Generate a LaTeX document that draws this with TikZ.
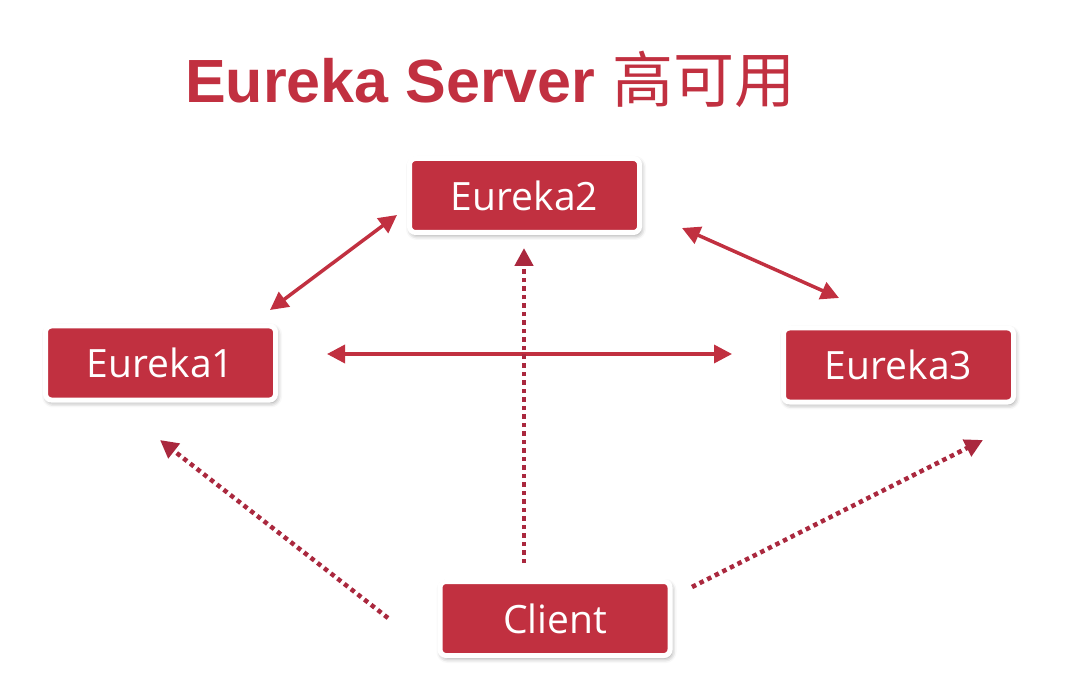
\documentclass[tikz,border=0pt]{standalone}
\usepackage{fontspec}
\setmainfont{Open Sans}
\newfontfamily\titlefont{Liberation Sans}
\newfontfamily\cjkfont{Noto Sans CJK SC}
\usetikzlibrary{arrows.meta,shadows.blur}

\definecolor{eured}{RGB}{193,48,64}
\definecolor{eudot}{RGB}{170,40,62}

\tikzset{
  srv/.style={rectangle, rounded corners=6pt, fill=eured, draw=white, line width=5pt,
    minimum width=230pt, minimum height=74pt, inner sep=0pt, text=white,
    font=\fontsize{39}{39}\selectfont,
    blur shadow={shadow xshift=1.5pt, shadow yshift=-2.5pt, shadow blur radius=5pt, shadow opacity=45}},
  sync/.style={draw=eured, line width=3.5pt, {Triangle[length=18pt,width=18pt]}-{Triangle[length=18pt,width=18pt]}},
  reg/.style={draw=eudot, line width=4.5pt, dash pattern=on 4.5pt off 4pt, -{Triangle[length=18pt,width=18pt]}}
}

\begin{document}
\begin{tikzpicture}[x=1pt, y=1pt]
\useasboundingbox (0,0) rectangle (1087,673);
\node[anchor=base west, text=eured, inner sep=0pt] (title) at (185,570)
  {\fontsize{61}{61}\selectfont\bfseries\titlefont Eureka Server {\cjkfont\mdseries 高可用}};

\node[srv] (e1) at (160.5,310) {Eureka1};
\node[srv] (e2) at (524.5,477.5) {Eureka2};
\node[srv] (e3) at (898.5,308) {Eureka3};
\node[srv] (cl) at (555,54.5) {Client};

\draw[sync] ([shift={(109.5,53)}]e1.center) -- ([shift={(-127.5,-19.5)}]e2.center);
\draw[sync] ([shift={(157.5,-32.5)}]e2.center) -- ([shift={(-59.5,67)}]e3.center);
\draw[sync] ([shift={(166.5,9)}]e1.center) -- ([shift={(-166.5,11)}]e3.center);

\draw[reg] ([shift={(-31,55.5)}]cl.center) -- ([shift={(-0.5,-52.5)}]e2.center);
\draw[reg] ([shift={(-167,0.5)}]cl.center) -- ([shift={(-0.5,-77)}]e1.center);
\draw[reg] ([shift={(137,31.5)}]cl.center) -- ([shift={(84.5,-75)}]e3.center);
\end{tikzpicture}
\end{document}
